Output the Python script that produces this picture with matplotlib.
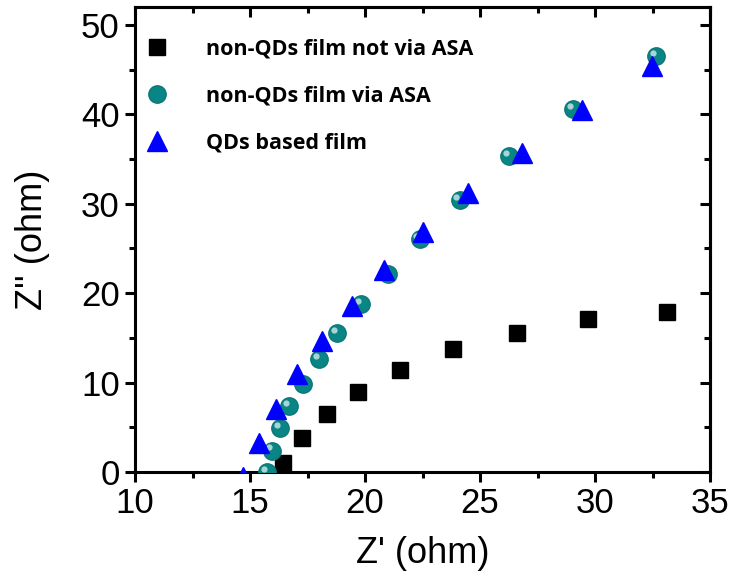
import matplotlib
matplotlib.use('Agg')
import matplotlib.pyplot as plt
import matplotlib.transforms as mtransforms
from matplotlib.ticker import MultipleLocator

# Nyquist data
x_no_asa = [16.44, 17.27, 18.36, 19.70, 21.53, 23.84, 26.62, 29.71, 33.15]
y_no_asa = [1.0, 3.8, 6.5, 8.9, 11.4, 13.8, 15.6, 17.1, 17.9]

x_asa = [15.73, 15.95, 16.31, 16.71, 17.30, 17.98, 18.78, 19.82, 20.98,
         22.37, 24.11, 26.27, 29.05, 32.66]
y_asa = [0.0, 2.4, 4.9, 7.4, 9.8, 12.6, 15.5, 18.8, 22.2,
         26.1, 30.4, 35.3, 40.6, 46.5]

x_qds = [14.71, 15.37, 16.12, 17.06, 18.15, 19.43, 20.83, 22.52, 24.48,
         26.82, 29.44, 32.49]
y_qds = [-0.6, 3.2, 7.1, 11.0, 14.7, 18.6, 22.6, 26.8, 31.2,
         35.7, 40.5, 45.4]

labels = ['non-QDs film not via ASA', 'non-QDs film via ASA', 'QDs based film']

plt.rcParams['font.family'] = ['Liberation Sans', 'DejaVu Sans']

fig = plt.figure(figsize=(7.39, 5.87), dpi=100)
ax = fig.add_axes([0.1827, 0.1959, 0.7781, 0.7921])

h1, = ax.plot(x_no_asa, y_no_asa, 's', color='black', markersize=11,
              linestyle='none', label=labels[0], zorder=3)
h2, = ax.plot(x_asa, y_asa, 'o', color='#0a8585', markeredgecolor='#0a7878',
              markersize=12.5, linestyle='none', label=labels[1], zorder=3)
# small highlight on the spheres
shine = mtransforms.offset_copy(ax.transData, fig=fig, x=-2.2, y=2.2, units='points')
ax.plot(x_asa, y_asa, 'o', color='#cfe9e9', markersize=4.5, alpha=0.8,
        markeredgewidth=0, linestyle='none', transform=shine, zorder=3.5)
h3, = ax.plot(x_qds, y_qds, '^', color='#0000ff', markersize=14.5,
              linestyle='none', label=labels[2], zorder=4)

ax.set_xlim(10, 35)
ax.set_ylim(0, 52)
ax.xaxis.set_major_locator(MultipleLocator(5))
ax.xaxis.set_minor_locator(MultipleLocator(2.5))
ax.yaxis.set_major_locator(MultipleLocator(10))
ax.yaxis.set_minor_locator(MultipleLocator(5))

for s in ax.spines.values():
    s.set_linewidth(2.2)

ax.tick_params(which='both', direction='out', width=2.2, labelsize=25,
               top=False, right=False, pad=4)
ax.tick_params(which='major', length=7)
ax.tick_params(which='minor', length=4)

# inward ticks on top and right spines
ax_t = ax.secondary_xaxis('top')
ax_t.xaxis.set_major_locator(MultipleLocator(5))
ax_t.xaxis.set_minor_locator(MultipleLocator(2.5))
ax_t.tick_params(which='both', direction='in', width=2.2, labeltop=False)
ax_t.tick_params(which='major', length=7)
ax_t.tick_params(which='minor', length=4)
ax_t.spines['top'].set_linewidth(2.2)
ax_r = ax.secondary_yaxis('right')
ax_r.yaxis.set_major_locator(MultipleLocator(10))
ax_r.yaxis.set_minor_locator(MultipleLocator(5))
ax_r.tick_params(which='both', direction='in', width=2.2, labelright=False)
ax_r.tick_params(which='major', length=7)
ax_r.tick_params(which='minor', length=4)
ax_r.spines['right'].set_linewidth(2.2)

ax.set_xlabel("Z' (ohm)", fontsize=26, labelpad=11)
ax.set_ylabel("Z'' (ohm)", fontsize=26, labelpad=22)

leg = ax.legend(handles=[h1, h2, h3], loc='upper left', frameon=False,
                bbox_to_anchor=(0.0, 0.95), labelspacing=1.2,
                handlelength=1.2, handletextpad=1.7, borderaxespad=0.0,
                prop={'family': 'Open Sans', 'weight': 'bold', 'size': 15.5})

fig.savefig('out.png', dpi=100)
